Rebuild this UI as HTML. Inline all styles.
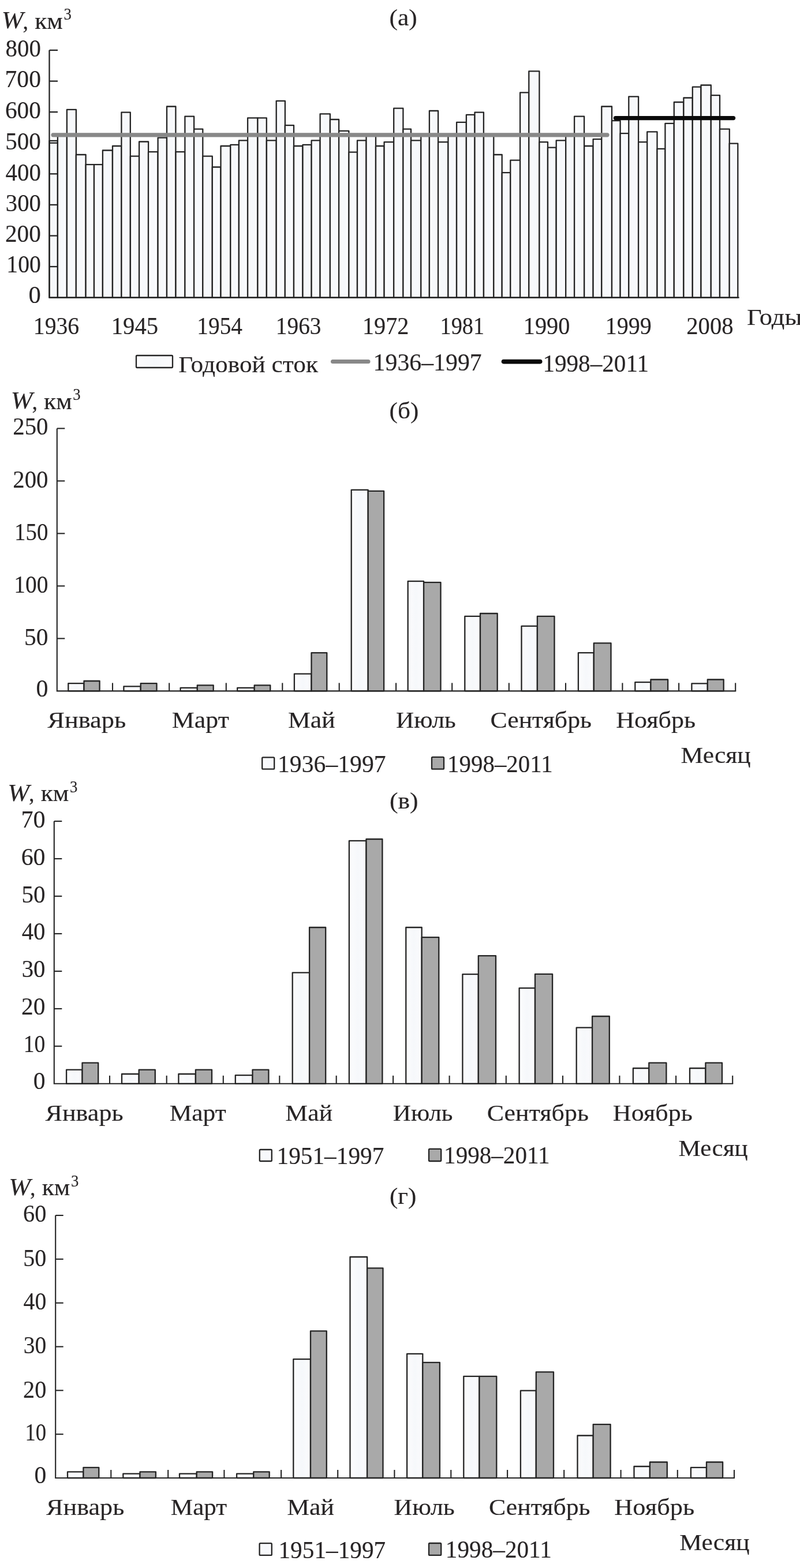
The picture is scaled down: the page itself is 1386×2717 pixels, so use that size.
<!DOCTYPE html>
<html lang="ru">
<head>
<meta charset="utf-8">
<title>Годовой и месячный сток</title>
<style>
html,body{margin:0;padding:0;background:#ffffff;}
body{width:1386px;height:2717px;overflow:hidden;}
svg{display:block;}
text{font-family:"Liberation Serif","DejaVu Serif",serif;fill:#282526;stroke:#282526;stroke-width:0.15px;}
</style>
</head>
<body>
<svg width="1386" height="2717" viewBox="0 0 1386 2717">
<defs><linearGradient id="wg" x1="0" y1="0" x2="1" y2="0"><stop offset="0" stop-color="#fcfcfd"/><stop offset="0.5" stop-color="#f6f8fb"/><stop offset="1" stop-color="#fbfbfd"/></linearGradient></defs>
<rect width="1386" height="2717" fill="#ffffff"/>
<g id="chart-a">
<g fill="url(#wg)" stroke="#242424" stroke-width="2.3" stroke-linejoin="round">
<rect x="85.5" y="243.9" width="14.4" height="271.7"/>
<rect x="99.9" y="234.3" width="16.0" height="281.3"/>
<rect x="115.9" y="189.8" width="16.0" height="325.8"/>
<rect x="131.8" y="268.0" width="16.8" height="247.6"/>
<rect x="148.6" y="285.2" width="14.4" height="230.4"/>
<rect x="163.0" y="285.2" width="14.9" height="230.4"/>
<rect x="177.9" y="260.5" width="17.0" height="255.1"/>
<rect x="195.0" y="253.0" width="15.4" height="262.6"/>
<rect x="210.4" y="194.6" width="15.4" height="321.0"/>
<rect x="225.9" y="270.7" width="15.2" height="244.9"/>
<rect x="241.1" y="245.5" width="16.0" height="270.1"/>
<rect x="257.0" y="263.2" width="16.5" height="252.4"/>
<rect x="273.6" y="238.6" width="15.4" height="277.0"/>
<rect x="289.0" y="184.5" width="15.4" height="331.1"/>
<rect x="304.5" y="263.2" width="16.0" height="252.4"/>
<rect x="320.4" y="201.6" width="15.7" height="314.0"/>
<rect x="336.1" y="223.6" width="15.2" height="292.0"/>
<rect x="351.3" y="270.7" width="16.5" height="244.9"/>
<rect x="367.8" y="289.5" width="14.6" height="226.1"/>
<rect x="382.5" y="253.0" width="16.8" height="262.6"/>
<rect x="399.3" y="250.9" width="14.6" height="264.7"/>
<rect x="413.9" y="243.4" width="15.2" height="272.2"/>
<rect x="429.1" y="204.3" width="17.3" height="311.3"/>
<rect x="446.4" y="204.3" width="15.4" height="311.3"/>
<rect x="461.9" y="243.4" width="16.8" height="272.2"/>
<rect x="478.7" y="174.8" width="15.2" height="340.8"/>
<rect x="493.8" y="217.1" width="15.2" height="298.5"/>
<rect x="509.0" y="253.0" width="15.4" height="262.6"/>
<rect x="524.5" y="250.9" width="15.2" height="264.7"/>
<rect x="539.6" y="243.4" width="14.9" height="272.2"/>
<rect x="554.6" y="197.3" width="17.3" height="318.3"/>
<rect x="571.9" y="207.0" width="15.2" height="308.6"/>
<rect x="587.1" y="226.8" width="17.3" height="288.8"/>
<rect x="604.4" y="263.7" width="14.6" height="251.9"/>
<rect x="619.0" y="243.4" width="15.4" height="272.2"/>
<rect x="634.5" y="234.3" width="16.5" height="281.3"/>
<rect x="651.0" y="253.0" width="14.6" height="262.6"/>
<rect x="665.6" y="246.1" width="16.5" height="269.5"/>
<rect x="682.2" y="187.7" width="16.2" height="327.9"/>
<rect x="698.4" y="223.6" width="13.6" height="292.0"/>
<rect x="712.0" y="243.4" width="17.3" height="272.2"/>
<rect x="729.3" y="234.3" width="14.6" height="281.3"/>
<rect x="743.9" y="192.0" width="15.2" height="323.6"/>
<rect x="759.1" y="246.1" width="17.3" height="269.5"/>
<rect x="776.4" y="234.3" width="14.6" height="281.3"/>
<rect x="791.1" y="211.8" width="16.8" height="303.8"/>
<rect x="807.9" y="198.9" width="14.6" height="316.7"/>
<rect x="822.5" y="194.6" width="15.4" height="321.0"/>
<rect x="838.0" y="234.3" width="17.3" height="281.3"/>
<rect x="855.3" y="268.0" width="14.4" height="247.6"/>
<rect x="869.7" y="299.1" width="14.6" height="216.5"/>
<rect x="884.3" y="277.7" width="16.8" height="237.9"/>
<rect x="901.1" y="160.3" width="15.2" height="355.3"/>
<rect x="916.3" y="123.4" width="18.1" height="392.2"/>
<rect x="934.4" y="246.1" width="14.6" height="269.5"/>
<rect x="949.0" y="255.7" width="14.6" height="259.9"/>
<rect x="963.7" y="243.4" width="16.5" height="272.2"/>
<rect x="980.2" y="234.3" width="14.9" height="281.3"/>
<rect x="995.1" y="201.6" width="17.0" height="314.0"/>
<rect x="1012.2" y="253.0" width="15.4" height="262.6"/>
<rect x="1027.6" y="241.2" width="14.6" height="274.4"/>
<rect x="1042.3" y="184.5" width="17.7" height="331.1"/>
<rect x="1060.0" y="209.1" width="14.6" height="306.5"/>
<rect x="1074.6" y="231.1" width="14.6" height="284.5"/>
<rect x="1089.3" y="167.3" width="16.8" height="348.3"/>
<rect x="1106.1" y="246.1" width="15.2" height="269.5"/>
<rect x="1121.2" y="228.4" width="17.3" height="287.2"/>
<rect x="1138.5" y="257.9" width="13.9" height="257.7"/>
<rect x="1152.4" y="213.9" width="15.4" height="301.7"/>
<rect x="1167.8" y="177.0" width="16.5" height="338.6"/>
<rect x="1184.4" y="169.5" width="15.4" height="346.1"/>
<rect x="1199.8" y="150.7" width="14.6" height="364.9"/>
<rect x="1214.5" y="147.5" width="17.3" height="368.1"/>
<rect x="1231.8" y="165.2" width="15.2" height="350.4"/>
<rect x="1247.0" y="223.6" width="16.8" height="292.0"/>
<rect x="1263.7" y="248.7" width="14.6" height="266.9"/>
</g>
<g stroke="#242424" stroke-width="2.3" fill="none">
<path d="M85.5 87.0 V515.6 H1280.7"/>
<path d="M85.5 462.0 h14.5"/>
<path d="M85.5 408.5 h14.5"/>
<path d="M85.5 354.9 h14.5"/>
<path d="M85.5 301.3 h14.5"/>
<path d="M85.5 247.7 h14.5"/>
<path d="M85.5 194.1 h14.5"/>
<path d="M85.5 140.6 h14.5"/>
<path d="M85.5 87.0 h14.5"/>
</g>
<path d="M92 233.8 H1052" stroke="#888888" stroke-width="7.2" stroke-linecap="round" fill="none"/>
<path d="M1066.5 204.6 H1270.5" stroke="#0a0a0a" stroke-width="7.4" stroke-linecap="round" fill="none"/>
<text transform="translate(9.62 98.40) scale(0.9587 1)" font-size="42.6">800</text>
<text transform="translate(8.62 151.30) scale(0.9748 1)" font-size="42.6">700</text>
<text transform="translate(9.00 205.40) scale(0.9686 1)" font-size="42.6">600</text>
<text transform="translate(9.29 258.60) scale(0.9640 1)" font-size="42.6">500</text>
<text transform="translate(9.58 312.50) scale(0.9593 1)" font-size="42.6">400</text>
<text transform="translate(9.79 365.60) scale(0.9560 1)" font-size="42.6">300</text>
<text transform="translate(9.00 419.40) scale(0.9686 1)" font-size="42.6">200</text>
<text transform="translate(11.31 471.90) scale(0.9316 1)" font-size="42.6">100</text>
<text transform="translate(49.55 525.20) scale(1.0000 1)" font-size="42.6">0</text>
<text transform="translate(57.80 579.40) scale(0.9321 1)" font-size="42.6">1936</text>
<text transform="translate(192.72 579.40) scale(0.9555 1)" font-size="42.6">1945</text>
<text transform="translate(341.34 579.40) scale(0.9238 1)" font-size="42.6">1954</text>
<text transform="translate(477.84 579.40) scale(0.9229 1)" font-size="42.6">1963</text>
<text transform="translate(627.96 579.40) scale(0.9443 1)" font-size="42.6">1972</text>
<text transform="translate(762.53 579.40) scale(0.8990 1)" font-size="42.6">1981</text>
<text transform="translate(906.75 579.40) scale(0.9455 1)" font-size="42.6">1990</text>
<text transform="translate(1048.77 579.40) scale(0.9404 1)" font-size="42.6">1999</text>
<text transform="translate(1189.23 579.40) scale(0.9554 1)" font-size="42.6">2008</text>
<text transform="translate(1294.04 563.00) scale(1.0850 1)" font-size="41">Годы</text>
<text transform="translate(2.85 49.40) scale(1.0741 1)" font-size="42.3" font-style="italic">W</text>
<text transform="translate(39.61 50.20) scale(0.9280 1)" font-size="41">,</text>
<text transform="translate(60.20 50.20) scale(1.0621 1)" font-size="41">км</text>
<text transform="translate(110.42 34.40) scale(0.9191 1)" font-size="29">3</text>
<text transform="translate(674.54 44.10) scale(1.0619 1)" font-size="41">(а)</text>
<rect x="236" y="616" width="63" height="21" rx="1.5" fill="url(#wg)" stroke="#242424" stroke-width="2.3"/>
<text transform="translate(309.28 644.80) scale(1.0579 1)" font-size="41">Годовой сток</text>
<path d="M576.5 626.6 H638" stroke="#888888" stroke-width="7" stroke-linecap="round"/>
<text transform="translate(646.62 642.20) scale(0.9815 1)" font-size="42.6">1936–1997</text>
<path d="M872.5 626.6 H935.7" stroke="#0a0a0a" stroke-width="7.6" stroke-linecap="round"/>
<text transform="translate(940.38 644.00) scale(0.9665 1)" font-size="42.6">1998–2011</text>
</g>
<g id="chart-b">
<g stroke="#242424" stroke-width="2.3" stroke-linejoin="round">
<rect x="118.3" y="1184.2" width="27.2" height="13.2" fill="url(#wg)"/>
<rect x="145.5" y="1180.0" width="27.1" height="17.4" fill="#a9a9a9"/>
<rect x="214.4" y="1189.3" width="29.3" height="8.1" fill="url(#wg)"/>
<rect x="243.7" y="1184.2" width="27.8" height="13.2" fill="#a9a9a9"/>
<rect x="312.6" y="1191.9" width="29.2" height="5.5" fill="url(#wg)"/>
<rect x="341.8" y="1187.3" width="27.9" height="10.1" fill="#a9a9a9"/>
<rect x="411.2" y="1191.9" width="29.5" height="5.5" fill="url(#wg)"/>
<rect x="440.7" y="1187.3" width="27.6" height="10.1" fill="#a9a9a9"/>
<rect x="509.9" y="1167.6" width="29.6" height="29.8" fill="url(#wg)"/>
<rect x="539.5" y="1131.2" width="26.8" height="66.2" fill="#a9a9a9"/>
<rect x="608.7" y="848.8" width="29.0" height="348.6" fill="url(#wg)"/>
<rect x="637.7" y="850.9" width="27.4" height="346.5" fill="#a9a9a9"/>
<rect x="706.7" y="1007.1" width="27.4" height="190.3" fill="url(#wg)"/>
<rect x="734.1" y="1009.2" width="29.4" height="188.2" fill="#a9a9a9"/>
<rect x="805.3" y="1067.9" width="26.7" height="129.5" fill="url(#wg)"/>
<rect x="832.0" y="1063.0" width="29.7" height="134.4" fill="#a9a9a9"/>
<rect x="903.5" y="1084.8" width="27.4" height="112.6" fill="url(#wg)"/>
<rect x="930.9" y="1067.9" width="29.6" height="129.5" fill="#a9a9a9"/>
<rect x="1001.9" y="1131.2" width="26.9" height="66.2" fill="url(#wg)"/>
<rect x="1028.8" y="1114.3" width="29.7" height="83.1" fill="#a9a9a9"/>
<rect x="1100.3" y="1182.1" width="27.1" height="15.3" fill="url(#wg)"/>
<rect x="1127.4" y="1177.5" width="29.7" height="19.9" fill="#a9a9a9"/>
<rect x="1198.4" y="1184.3" width="27.4" height="13.1" fill="url(#wg)"/>
<rect x="1225.8" y="1177.5" width="27.9" height="19.9" fill="#a9a9a9"/>
</g>
<g stroke="#242424" stroke-width="2.1" fill="none">
<path d="M98.8 742.4 V1197.4 H1275.2"/>
<path d="M98.8 1106.4 h13.5"/>
<path d="M98.8 1015.4 h13.5"/>
<path d="M98.8 924.4 h13.5"/>
<path d="M98.8 833.4 h13.5"/>
<path d="M98.8 742.4 h13.5"/>
<path d="M195.0 1197.4 v-14"/>
<path d="M293.2 1197.4 v-14"/>
<path d="M391.8 1197.4 v-14"/>
<path d="M489.3 1197.4 v-14"/>
<path d="M587.7 1197.4 v-14"/>
<path d="M686.1 1197.4 v-14"/>
<path d="M783.2 1197.4 v-14"/>
<path d="M881.8 1197.4 v-14"/>
<path d="M980.0 1197.4 v-14"/>
<path d="M1078.4 1197.4 v-14"/>
<path d="M1176.1 1197.4 v-14"/>
<path d="M1274.2 1197.4 v-14"/>
</g>
<text transform="translate(22.22 752.80) scale(0.9587 1)" font-size="42.6">250</text>
<text transform="translate(22.22 844.90) scale(0.9587 1)" font-size="42.6">200</text>
<text transform="translate(25.08 936.10) scale(0.9128 1)" font-size="42.6">150</text>
<text transform="translate(24.23 1027.40) scale(0.9265 1)" font-size="42.6">100</text>
<text transform="translate(41.96 1118.30) scale(0.9740 1)" font-size="42.6">50</text>
<text transform="translate(62.48 1207.00) scale(0.9833 1)" font-size="42.6">0</text>
<text transform="translate(18.65 707.90) scale(1.0741 1)" font-size="42.3" font-style="italic">W</text>
<text transform="translate(55.41 708.70) scale(0.9280 1)" font-size="41">,</text>
<text transform="translate(76.00 708.70) scale(1.0621 1)" font-size="41">км</text>
<text transform="translate(126.22 692.90) scale(0.9191 1)" font-size="29">3</text>
<text transform="translate(674.56 724.90) scale(1.0539 1)" font-size="41">(б)</text>
<text transform="translate(82.23 1261.00) scale(1.0847 1)" font-size="41">Январь</text>
<text transform="translate(297.86 1261.00) scale(1.0700 1)" font-size="41">Март</text>
<text transform="translate(498.97 1261.00) scale(1.0667 1)" font-size="41">Май</text>
<text transform="translate(685.98 1261.00) scale(1.0563 1)" font-size="41">Июль</text>
<text transform="translate(849.43 1261.00) scale(1.0691 1)" font-size="41">Сентябрь</text>
<text transform="translate(1067.15 1261.00) scale(1.0767 1)" font-size="41">Ноябрь</text>
<text transform="translate(1179.57 1322.00) scale(1.0607 1)" font-size="41">Месяц</text>
<rect x="454.2" y="1312.3" width="21.0" height="20.4" rx="1.5" fill="url(#wg)" stroke="#242424" stroke-width="2.3"/>
<text transform="translate(481.03 1337.80) scale(0.9788 1)" font-size="42.6">1936–1997</text>
<rect x="748.0" y="1311.8" width="21.0" height="20.9" rx="1.5" fill="#a9a9a9" stroke="#242424" stroke-width="2.3"/>
<text transform="translate(775.10 1338.00) scale(0.9600 1)" font-size="42.6">1998–2011</text>
</g>
<g id="chart-v">
<g stroke="#242424" stroke-width="2.3" stroke-linejoin="round">
<rect x="115.1" y="1853.6" width="27.4" height="24.2" fill="url(#wg)"/>
<rect x="142.5" y="1841.7" width="27.7" height="36.1" fill="#a9a9a9"/>
<rect x="211.0" y="1861.0" width="29.7" height="16.8" fill="url(#wg)"/>
<rect x="240.7" y="1853.6" width="28.1" height="24.2" fill="#a9a9a9"/>
<rect x="309.4" y="1861.0" width="29.5" height="16.8" fill="url(#wg)"/>
<rect x="338.9" y="1853.6" width="28.1" height="24.2" fill="#a9a9a9"/>
<rect x="407.8" y="1863.2" width="29.7" height="14.6" fill="url(#wg)"/>
<rect x="437.5" y="1853.6" width="27.9" height="24.2" fill="#a9a9a9"/>
<rect x="506.7" y="1685.4" width="29.4" height="192.4" fill="url(#wg)"/>
<rect x="536.1" y="1607.0" width="28.1" height="270.8" fill="#a9a9a9"/>
<rect x="604.9" y="1456.9" width="29.6" height="420.9" fill="url(#wg)"/>
<rect x="634.5" y="1454.0" width="27.9" height="423.8" fill="#a9a9a9"/>
<rect x="703.3" y="1607.0" width="27.4" height="270.8" fill="url(#wg)"/>
<rect x="730.7" y="1624.2" width="29.6" height="253.6" fill="#a9a9a9"/>
<rect x="801.4" y="1688.2" width="27.4" height="189.6" fill="url(#wg)"/>
<rect x="828.8" y="1656.2" width="30.2" height="221.6" fill="#a9a9a9"/>
<rect x="899.6" y="1712.1" width="27.4" height="165.7" fill="url(#wg)"/>
<rect x="927.0" y="1687.9" width="30.1" height="189.9" fill="#a9a9a9"/>
<rect x="998.7" y="1780.7" width="27.4" height="97.1" fill="url(#wg)"/>
<rect x="1026.1" y="1761.0" width="29.7" height="116.8" fill="#a9a9a9"/>
<rect x="1096.9" y="1851.0" width="27.4" height="26.8" fill="url(#wg)"/>
<rect x="1124.3" y="1841.7" width="30.1" height="36.1" fill="#a9a9a9"/>
<rect x="1195.0" y="1851.0" width="27.4" height="26.8" fill="url(#wg)"/>
<rect x="1222.4" y="1841.7" width="28.6" height="36.1" fill="#a9a9a9"/>
</g>
<g stroke="#242424" stroke-width="2.1" fill="none">
<path d="M93.8 1423.0 V1877.8 H1270.2"/>
<path d="M93.8 1812.8 h13.5"/>
<path d="M93.8 1747.9 h13.5"/>
<path d="M93.8 1682.9 h13.5"/>
<path d="M93.8 1617.9 h13.5"/>
<path d="M93.8 1552.9 h13.5"/>
<path d="M93.8 1488.0 h13.5"/>
<path d="M93.8 1423.0 h13.5"/>
<path d="M190.0 1877.8 v-14"/>
<path d="M288.7 1877.8 v-14"/>
<path d="M386.8 1877.8 v-14"/>
<path d="M484.3 1877.8 v-14"/>
<path d="M582.7 1877.8 v-14"/>
<path d="M681.1 1877.8 v-14"/>
<path d="M778.6 1877.8 v-14"/>
<path d="M876.8 1877.8 v-14"/>
<path d="M975.0 1877.8 v-14"/>
<path d="M1073.4 1877.8 v-14"/>
<path d="M1171.1 1877.8 v-14"/>
<path d="M1269.2 1877.8 v-14"/>
</g>
<text transform="translate(36.38 1433.90) scale(0.9908 1)" font-size="42.6">70</text>
<text transform="translate(36.68 1499.10) scale(0.9834 1)" font-size="42.6">60</text>
<text transform="translate(37.49 1564.00) scale(0.9636 1)" font-size="42.6">50</text>
<text transform="translate(37.68 1628.30) scale(0.9590 1)" font-size="42.6">40</text>
<text transform="translate(37.68 1693.00) scale(0.9590 1)" font-size="42.6">30</text>
<text transform="translate(37.10 1758.30) scale(0.9732 1)" font-size="42.6">20</text>
<text transform="translate(40.79 1823.40) scale(0.8832 1)" font-size="42.6">10</text>
<text transform="translate(57.69 1887.00) scale(0.9778 1)" font-size="42.6">0</text>
<text transform="translate(13.35 1387.60) scale(1.0741 1)" font-size="42.3" font-style="italic">W</text>
<text transform="translate(50.11 1388.40) scale(0.9280 1)" font-size="41">,</text>
<text transform="translate(70.70 1388.40) scale(1.0621 1)" font-size="41">км</text>
<text transform="translate(120.92 1372.60) scale(0.9191 1)" font-size="29">3</text>
<text transform="translate(674.94 1401.30) scale(1.0651 1)" font-size="41">(в)</text>
<text transform="translate(78.43 1941.80) scale(1.0782 1)" font-size="41">Январь</text>
<text transform="translate(293.68 1941.80) scale(1.0590 1)" font-size="41">Март</text>
<text transform="translate(494.37 1941.80) scale(1.0667 1)" font-size="41">Май</text>
<text transform="translate(680.78 1941.80) scale(1.0552 1)" font-size="41">Июль</text>
<text transform="translate(843.72 1941.80) scale(1.0729 1)" font-size="41">Сентябрь</text>
<text transform="translate(1061.85 1941.80) scale(1.0775 1)" font-size="41">Ноябрь</text>
<text transform="translate(1175.48 2003.30) scale(1.0527 1)" font-size="41">Месяц</text>
<rect x="449.8" y="1992.0" width="21.0" height="20.0" rx="1.5" fill="url(#wg)" stroke="#242424" stroke-width="2.3"/>
<text transform="translate(479.46 2017.00) scale(0.9703 1)" font-size="42.6">1951–1997</text>
<rect x="743.0" y="1990.8" width="21.2" height="21.2" rx="1.5" fill="#a9a9a9" stroke="#242424" stroke-width="2.3"/>
<text transform="translate(769.08 2015.60) scale(0.9654 1)" font-size="42.6">1998–2011</text>
</g>
<g id="chart-g">
<g stroke="#242424" stroke-width="2.3" stroke-linejoin="round">
<rect x="117.0" y="2550.4" width="27.4" height="10.6" fill="url(#wg)"/>
<rect x="144.4" y="2542.9" width="26.9" height="18.1" fill="#a9a9a9"/>
<rect x="213.3" y="2553.6" width="29.2" height="7.4" fill="url(#wg)"/>
<rect x="242.5" y="2550.3" width="27.4" height="10.7" fill="#a9a9a9"/>
<rect x="311.0" y="2553.6" width="29.7" height="7.4" fill="url(#wg)"/>
<rect x="340.7" y="2550.3" width="27.4" height="10.7" fill="#a9a9a9"/>
<rect x="410.1" y="2553.6" width="29.2" height="7.4" fill="url(#wg)"/>
<rect x="439.3" y="2550.3" width="27.4" height="10.7" fill="#a9a9a9"/>
<rect x="508.3" y="2355.2" width="29.7" height="205.8" fill="url(#wg)"/>
<rect x="538.0" y="2306.4" width="27.8" height="254.6" fill="#a9a9a9"/>
<rect x="606.5" y="2178.0" width="29.6" height="383.0" fill="url(#wg)"/>
<rect x="636.1" y="2197.4" width="27.4" height="363.6" fill="#a9a9a9"/>
<rect x="705.1" y="2345.8" width="27.2" height="215.2" fill="url(#wg)"/>
<rect x="732.3" y="2360.9" width="29.6" height="200.1" fill="#a9a9a9"/>
<rect x="803.3" y="2384.8" width="27.1" height="176.2" fill="url(#wg)"/>
<rect x="830.4" y="2384.8" width="29.9" height="176.2" fill="#a9a9a9"/>
<rect x="901.9" y="2409.7" width="26.9" height="151.3" fill="url(#wg)"/>
<rect x="928.8" y="2377.4" width="30.2" height="183.6" fill="#a9a9a9"/>
<rect x="1000.5" y="2487.5" width="27.2" height="73.5" fill="url(#wg)"/>
<rect x="1027.7" y="2468.1" width="29.9" height="92.9" fill="#a9a9a9"/>
<rect x="1098.5" y="2541.0" width="27.4" height="20.0" fill="url(#wg)"/>
<rect x="1125.9" y="2533.5" width="29.9" height="27.5" fill="#a9a9a9"/>
<rect x="1196.9" y="2542.9" width="27.1" height="18.1" fill="url(#wg)"/>
<rect x="1224.0" y="2533.5" width="28.1" height="27.5" fill="#a9a9a9"/>
</g>
<g stroke="#242424" stroke-width="2.1" fill="none">
<path d="M96.2 2106.0 V2561.0 H1273.0"/>
<path d="M96.2 2485.2 h13.5"/>
<path d="M96.2 2409.3 h13.5"/>
<path d="M96.2 2333.5 h13.5"/>
<path d="M96.2 2257.7 h13.5"/>
<path d="M96.2 2181.8 h13.5"/>
<path d="M96.2 2106.0 h13.5"/>
<path d="M192.3 2561.0 v-14"/>
<path d="M291.2 2561.0 v-14"/>
<path d="M388.4 2561.0 v-14"/>
<path d="M487.1 2561.0 v-14"/>
<path d="M585.2 2561.0 v-14"/>
<path d="M683.4 2561.0 v-14"/>
<path d="M781.3 2561.0 v-14"/>
<path d="M879.1 2561.0 v-14"/>
<path d="M977.2 2561.0 v-14"/>
<path d="M1075.6 2561.0 v-14"/>
<path d="M1173.8 2561.0 v-14"/>
<path d="M1272.0 2561.0 v-14"/>
</g>
<text transform="translate(40.05 2117.40) scale(0.9452 1)" font-size="42.6">60</text>
<text transform="translate(40.25 2193.50) scale(0.9403 1)" font-size="42.6">50</text>
<text transform="translate(40.60 2269.30) scale(0.9317 1)" font-size="42.6">40</text>
<text transform="translate(40.74 2345.40) scale(0.9282 1)" font-size="42.6">30</text>
<text transform="translate(40.05 2421.50) scale(0.9452 1)" font-size="42.6">20</text>
<text transform="translate(43.47 2496.30) scale(0.8617 1)" font-size="42.6">10</text>
<text transform="translate(59.49 2570.20) scale(0.9778 1)" font-size="42.6">0</text>
<text transform="translate(15.35 2070.60) scale(1.0741 1)" font-size="42.3" font-style="italic">W</text>
<text transform="translate(52.11 2071.40) scale(0.9280 1)" font-size="41">,</text>
<text transform="translate(72.70 2071.40) scale(1.0621 1)" font-size="41">км</text>
<text transform="translate(122.92 2055.60) scale(0.9191 1)" font-size="29">3</text>
<text transform="translate(674.96 2085.90) scale(1.0519 1)" font-size="41">(г)</text>
<text transform="translate(80.03 2624.60) scale(1.0782 1)" font-size="41">Январь</text>
<text transform="translate(295.78 2624.60) scale(1.0523 1)" font-size="41">Март</text>
<text transform="translate(497.17 2624.60) scale(1.0667 1)" font-size="41">Май</text>
<text transform="translate(682.56 2624.60) scale(1.0708 1)" font-size="41">Июль</text>
<text transform="translate(846.93 2624.60) scale(1.0698 1)" font-size="41">Сентябрь</text>
<text transform="translate(1064.25 2624.60) scale(1.0839 1)" font-size="41">Ноябрь</text>
<text transform="translate(1177.27 2686.10) scale(1.0634 1)" font-size="41">Месяц</text>
<rect x="449.6" y="2674.2" width="21.2" height="20.7" rx="1.5" fill="url(#wg)" stroke="#242424" stroke-width="2.3"/>
<text transform="translate(482.47 2699.80) scale(0.9692 1)" font-size="42.6">1951–1997</text>
<rect x="743.0" y="2674.0" width="21.2" height="20.9" rx="1.5" fill="#a9a9a9" stroke="#242424" stroke-width="2.3"/>
<text transform="translate(771.87 2699.00) scale(0.9676 1)" font-size="42.6">1998–2011</text>
</g>
</svg>
</body>
</html>
